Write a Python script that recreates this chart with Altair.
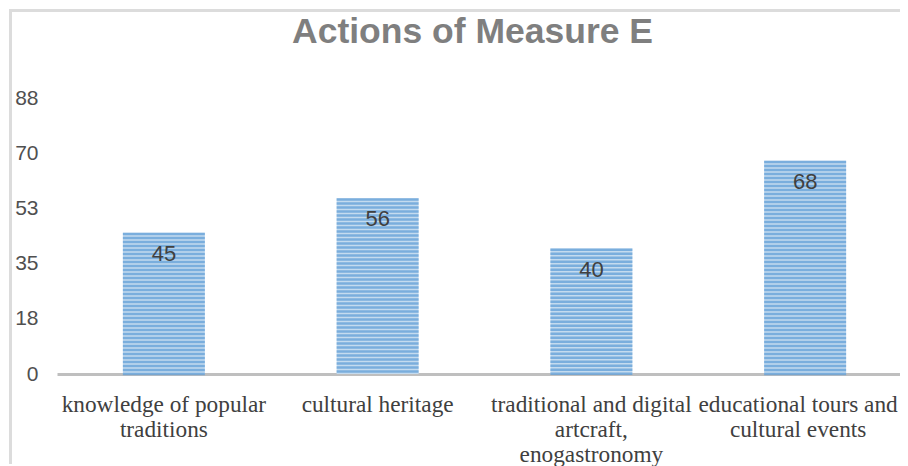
import altair as alt
import pandas as pd

categories = [
    "knowledge of popular|traditions",
    "cultural heritage",
    "traditional and digital|artcraft,|enogastronomy",
    "educational tours and|cultural events",
]
values = [45, 56, 40, 68]
y_ticks = [0, 17.6, 35.2, 52.8, 70.4, 88]

df = pd.DataFrame({"category": categories, "value": values})

W, H = 843, 276
RANGE_W = 855
STRIPE = 88 / 69  # texture period (about 4 px)
DARK = "#5b9bd5"
LIGHT = "#c4dbef"

last_label_test = f"datum.value == '{categories[-1]}'"

x_enc = alt.X(
    "category:N",
    sort=categories,
    scale=alt.Scale(paddingInner=0.6165, paddingOuter=0.30825, range=[0, RANGE_W]),
    axis=alt.Axis(
        title=None,
        labelAngle=0,
        labelExpr="split(datum.label, '|')",
        labelFont="Liberation Serif",
        labelFontSize=23.3,
        labelLineHeight=25,
        labelColor="#404040",
        labelLimit=0,
        labelOverlap=False,
        labelPadding=19,
        labelOffset={"condition": {"test": last_label_test, "value": -7}, "value": 0},
        ticks=False,
        tickSize=0,
        domainColor="#bfbfbf",
        domainWidth=3,
        grid=False,
    ),
)
y_enc = alt.Y(
    "value:Q",
    scale=alt.Scale(domain=[0, 88], nice=False, zero=True),
    axis=alt.Axis(
        title=None,
        values=y_ticks,
        format=".0f",
        domain=False,
        ticks=False,
        grid=False,
        labelFont="Liberation Sans",
        labelFontSize=21,
        labelColor="#505050",
        labelPadding=19,
    ),
)

base = alt.Chart(df)

bars = base.mark_bar(color=LIGHT).encode(x=x_enc, y=y_enc)

stripes = (
    base.transform_calculate(s=f"sequence(0, datum.value, {STRIPE})")
    .transform_flatten(["s"])
    .transform_calculate(sy="datum.value - datum.s")
    .mark_tick(orient="horizontal", thickness=2.4, size=82, color=DARK)
    .encode(x=alt.X("category:N", sort=categories), y=alt.Y("sy:Q"), yOffset=alt.value(1.2))
)

labels = base.mark_text(
    baseline="middle", dy=21, font="Liberation Sans", fontSize=22, color="#404040"
).encode(x=alt.X("category:N", sort=categories), y="value:Q", text="value:Q")

one = pd.DataFrame({"k": [0]})
frame_top = alt.Chart(one).mark_rule(color="#dcdcdc", strokeWidth=3).encode(
    x=alt.value(-48), x2=alt.value(W + 5), y=alt.value(-87.5)
)
frame_left = alt.Chart(one).mark_rule(color="#dcdcdc", strokeWidth=3).encode(
    x=alt.value(-46.5), y=alt.value(-89), y2=alt.value(H + 90)
)

chart = (
    alt.layer(frame_top, frame_left, bars, stripes, labels)
    .properties(
        width=W,
        height=H,
        padding={"left": 49, "top": 90, "right": 0, "bottom": 92},
        autosize=alt.AutoSizeParams(type="none"),
        title=alt.TitleParams(
            "Actions of Measure E",
            font="Liberation Sans",
            fontSize=35.5,
            fontWeight="bold",
            color="#7f7f7f",
            dx=-6,
            dy=34,
            baseline="alphabetic",
            offset=-37,
        ),
    )
    .configure_view(stroke=None)
)

chart.save("out.html", embed_options={"renderer": "svg", "actions": False})
